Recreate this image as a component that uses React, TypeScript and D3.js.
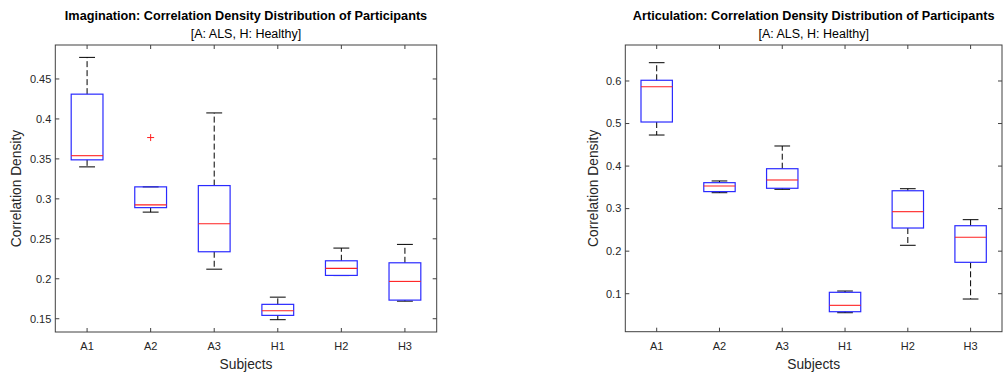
import React from 'react'
import * as d3 from 'd3'

const subjects = ['A1', 'A2', 'A3', 'H1', 'H2', 'H3']

// imagination box stats
const imagWhiskerHigh = [0.477, 0.315, 0.4075, 0.177, 0.2384, 0.243]
const imagQ3 = [0.431, 0.315, 0.3166, 0.168, 0.2225, 0.22]
const imagMedian = [0.354, 0.2925, 0.2688, 0.16, 0.213, 0.1967]
const imagQ1 = [0.3488, 0.289, 0.2338, 0.1542, 0.2042, 0.1733]
const imagWhiskerLow = [0.34, 0.2834, 0.212, 0.1488, 0.204, 0.172]
const imagOutliers = [{ subject: 'A2', value: 0.3767 }]
const imagTicks = [0.15, 0.2, 0.25, 0.3, 0.35, 0.4, 0.45]

// articulation box stats
const artWhiskerHigh = [0.643, 0.365, 0.4472, 0.1063, 0.3468, 0.274]
const artQ3 = [0.6017, 0.361, 0.3938, 0.1033, 0.342, 0.2598]
const artMedian = [0.5866, 0.353, 0.3673, 0.0727, 0.2928, 0.2326]
const artQ1 = [0.5036, 0.34, 0.3478, 0.0577, 0.2544, 0.1738]
const artWhiskerLow = [0.473, 0.3374, 0.3454, 0.0553, 0.2138, 0.0875]
const artOutliers: { subject: string; value: number }[] = []
const artTicks = [0.1, 0.2, 0.3, 0.4, 0.5, 0.6]

const font = 'Liberation Sans, Arial, Helvetica, sans-serif'
const axisColor = '#404040'

type PanelProps = {
  left: number
  right: number
  top: number
  bottom: number
  yDomain: [number, number]
  ticks: number[]
  tickFormat: (v: number) => string
  title: string
  whiskerHigh: number[]
  q3: number[]
  median: number[]
  q1: number[]
  whiskerLow: number[]
  outliers: { subject: string; value: number }[]
  yLabelX: number
}

const Panel = (p: PanelProps) => {
  const x = d3
    .scaleLinear()
    .domain([0.5, subjects.length + 0.5])
    .range([p.left, p.right])
  const y = d3.scaleLinear().domain(p.yDomain).range([p.bottom, p.top])
  const unit = x(1) - x(0)
  const boxW = unit * 0.5
  const capW = unit * 0.25
  const cx = (p.left + p.right) / 2
  const cy = (p.top + p.bottom) / 2
  const tickLen = 4

  return (
    <g>
      <text
        x={cx}
        y={20}
        textAnchor='middle'
        fontFamily={font}
        fontWeight='bold'
        fontSize={12.7}
        fill='#000'
      >
        {p.title}
      </text>
      <text
        x={cx}
        y={37.5}
        textAnchor='middle'
        fontFamily={font}
        fontSize={12.5}
        fill='#000'
      >
        [A: ALS, H: Healthy]
      </text>

      {subjects.map((s, i) => {
        const px = x(i + 1)
        return (
          <g key={s}>
            <line
              x1={px}
              x2={px}
              y1={y(p.q3[i])}
              y2={y(p.whiskerHigh[i])}
              stroke='#000'
              strokeDasharray='6,3'
            />
            <line
              x1={px}
              x2={px}
              y1={y(p.q1[i])}
              y2={y(p.whiskerLow[i])}
              stroke='#000'
              strokeDasharray='6,3'
            />
            <line
              x1={px - capW / 2}
              x2={px + capW / 2}
              y1={y(p.whiskerHigh[i])}
              y2={y(p.whiskerHigh[i])}
              stroke='#000'
            />
            <line
              x1={px - capW / 2}
              x2={px + capW / 2}
              y1={y(p.whiskerLow[i])}
              y2={y(p.whiskerLow[i])}
              stroke='#000'
            />
            <rect
              x={px - boxW / 2}
              y={y(p.q3[i])}
              width={boxW}
              height={y(p.q1[i]) - y(p.q3[i])}
              fill='none'
              stroke='#2a2aff'
              strokeWidth={1.2}
            />
            <line
              x1={px - boxW / 2}
              x2={px + boxW / 2}
              y1={y(p.median[i])}
              y2={y(p.median[i])}
              stroke='#ff2020'
              strokeWidth={1.1}
            />
          </g>
        )
      })}

      {p.outliers.map((o, i) => {
        const px = x(subjects.indexOf(o.subject) + 1)
        const py = y(o.value)
        return (
          <g key={i} stroke='#ff2020' strokeWidth={1}>
            <line x1={px - 3.5} x2={px + 3.5} y1={py} y2={py} />
            <line x1={px} x2={px} y1={py - 3.5} y2={py + 3.5} />
          </g>
        )
      })}

      <rect
        x={p.left}
        y={p.top}
        width={p.right - p.left}
        height={p.bottom - p.top}
        fill='none'
        stroke={axisColor}
        strokeWidth={1}
      />

      {p.ticks.map((t) => (
        <g key={t}>
          <line
            x1={p.left}
            x2={p.left + tickLen}
            y1={y(t)}
            y2={y(t)}
            stroke={axisColor}
          />
          <line
            x1={p.right}
            x2={p.right - tickLen}
            y1={y(t)}
            y2={y(t)}
            stroke={axisColor}
          />
          <text
            x={p.left - 4}
            y={y(t)}
            dy='0.35em'
            textAnchor='end'
            fontFamily={font}
            fontSize={11}
            fill='#262626'
          >
            {p.tickFormat(t)}
          </text>
        </g>
      ))}

      {subjects.map((s, i) => (
        <g key={s}>
          <line
            x1={x(i + 1)}
            x2={x(i + 1)}
            y1={p.bottom}
            y2={p.bottom - tickLen}
            stroke={axisColor}
          />
          <line
            x1={x(i + 1)}
            x2={x(i + 1)}
            y1={p.top}
            y2={p.top + tickLen}
            stroke={axisColor}
          />
          <text
            x={x(i + 1)}
            y={346}
            dy='0.35em'
            textAnchor='middle'
            fontFamily={font}
            fontSize={11}
            fill='#262626'
          >
            {s}
          </text>
        </g>
      ))}

      <text
        x={cx}
        y={364}
        dy='0.35em'
        textAnchor='middle'
        fontFamily={font}
        fontSize={13.8}
        fill='#262626'
      >
        Subjects
      </text>
      <text
        transform={`translate(${p.yLabelX}, ${cy}) rotate(-90)`}
        dy='0.35em'
        textAnchor='middle'
        fontFamily={font}
        fontSize={13.8}
        fill='#262626'
      >
        Correlation Density
      </text>
    </g>
  )
}

const App = () => {
  return (
    <svg
      width={1007}
      height={373}
      style={{ position: 'absolute', left: 0, top: 0, background: '#fff' }}
    >
      <Panel
        left={55.3}
        right={436.7}
        top={45}
        bottom={332}
        yDomain={[0.1334, 0.4925]}
        ticks={imagTicks}
        tickFormat={(v) => d3.format('')(+v.toFixed(2))}
        title='Imagination: Correlation Density Distribution of Participants'
        whiskerHigh={imagWhiskerHigh}
        q3={imagQ3}
        median={imagMedian}
        q1={imagQ1}
        whiskerLow={imagWhiskerLow}
        outliers={imagOutliers}
        yLabelX={16}
      />
      <Panel
        left={625.3}
        right={1002}
        top={45}
        bottom={331.7}
        yDomain={[0.0107, 0.6846]}
        ticks={artTicks}
        tickFormat={(v) => d3.format('')(+v.toFixed(1))}
        title='Articulation: Correlation Density Distribution of Participants'
        whiskerHigh={artWhiskerHigh}
        q3={artQ3}
        median={artMedian}
        q1={artQ1}
        whiskerLow={artWhiskerLow}
        outliers={artOutliers}
        yLabelX={593}
      />
    </svg>
  )
}

export default App
